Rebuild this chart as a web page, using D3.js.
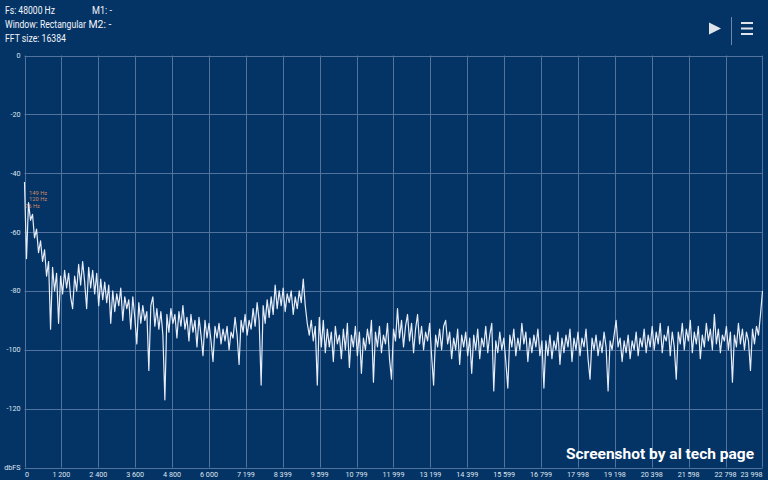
<!DOCTYPE html>
<html>
<head>
<meta charset="utf-8">
<script src="https://cdn.jsdelivr.net/npm/d3@7/dist/d3.min.js"></script>
<style>
html,body{margin:0;padding:0;background:#043366;}
svg{display:block;}
</style>
</head>
<body>
<svg id="chart" width="768" height="480"></svg>
<script>
// ---- data ----
const sampleRateHz = 48000;
const maxFreqHz = 24000;
const binCount = 369;
const levelsDb = [
-43,-69,-50,-56,-54,-62,-59,-67,-63,-70,-66,-75,-70,-93,-72,-80,-74,-91,-75,-81,
-73,-79,-74,-82,-86,-75,-80,-71,-78,-70,-77,-86,-72,-79,-73,-81,-74,-85,-76,-83,
-77,-84,-78,-91,
-80,-87,-81,-85,-79,-90,-82,-86,-83,-93,-82,-89,-98,-84,-91,-85,-90,-87,-107,-85,
-82,-92,-86,-93,-87,-95,-117,-88,-94,-86,-91,-88,-96,-87,-92,-85,-93,-89,-97,-88,
-94,-90,-99,-89,-95,-102,-90,-96,-91,-97,-104,-92,-96,-91,-98,-93,-97,-92,-100,-94,
-96,-89,-95,-105,-90,-94,-88,-95,-90,-93,
-86,-92,-84,-90,-112,-85,-91,-83,-89,-82,-88,-78,-86,-80,-85,-79,-87,-81,-84,-80,
-88,-82,-86,-80,-84,-76,-85,
-91,-95,-90,-97,-92,-112,-89,-99,
-90,-101,-93,-99,-94,-104,-92,-98,-95,-103,-93,-100,-91,-106,-95,-99,-92,-102,-94,-108,
-96,-100,-93,-98,-90,-111,-94,-99,-92,-101,-95,-98,-91,-103,-110,-93,-97,-86,-96,-90,
-99,-92,-88,-97,-91,-101,-93,-88,-98,-92,-100,-94,-97,-91,-102,-112,-95,-99,-93,-100,
-92,-90,-98,-94,-103,-96,-100,-93,-105,-95,-99,-94,-102,-96,-108,-95,-100,-93,-103,-96,
-99,-92,-101,-95,-91,-114,-97,-101,-94,-100,-96,-104,-113,-95,-99,-93,-102,-96,-100,-91,
-98,-94,-104,-96,-101,-95,-99,-93,-102,-97,
-113,-97,-102,-95,-103,-97,-100,-94,-105,-96,-101,-95,-99,-93,-104,-96,-100,-94,-102,-96,
-99,-93,-103,-110,-96,-100,-95,-102,-97,-101,-94,-99,-114,-97,-100,-95,-90,-99,-96,-104,
-97,-101,-95,-103,-97,-100,-94,-102,-96,-99,-93,-101,-95,
-99,-92,-100,-94,-98,-91,-101,-95,-97,-92,-102,-94,-99,-110,-94,-98,-91,-100,-93,-97,
-90,-101,-94,-98,-92,-103,-95,-99,-91,-97,-93,-100,-88,-98,-93,-101,-95,-97,-92,-100,
-94,-111,-95,-99,-91,-98,-93,-100,-94,-97,-107,-93,-98,-92,-95,-88,-80
];
const xTickHz = [0,1200,2400,3600,4800,6000,7199,8399,9599,10799,11999,13199,14399,15599,16799,17998,19198,20398,21598,22798,23998];
const xTickLabels = ["0","1 200","2 400","3 600","4 800","6 000","7 199","8 399","9 599","10 799","11 999","13 199","14 399","15 599","16 799","17 998","19 198","20 398","21 598","22 798","23 998"];
const yTicksDb = [0,-20,-40,-60,-80,-100,-120,-140];
const yTickLabels = ["0","-20","-40","-60","-80","-100","-120","dbFS"];
const peakLabels = ["149 Hz","120 Hz","76 Hz"];
const infoLeft = ["Fs: 48000 Hz","Window: Rectangular","FFT size: 16384"];
const infoRight = ["M1: -","M2: -"];
const watermark = "Screenshot by al tech page";

// ---- layout ----
const svg = d3.select("#chart");
const W = 768, H = 480;
const plot = {left:24.5, right:762.5, top:55.5, bottom:467.5};
const x = d3.scaleLinear().domain([0, maxFreqHz]).range([plot.left, plot.right]);
const y = d3.scaleLinear().domain([0, -140]).range([plot.top, plot.bottom]);
const freqStep = maxFreqHz / (binCount - 1);

svg.append("rect").attr("width",W).attr("height",H).attr("fill","#043366");

const gridColor = "#52739d";
// vertical grid
svg.append("g").selectAll("line").data(xTickHz).join("line")
  .attr("x1",d=>Math.round(x(d))+0.5).attr("x2",d=>Math.round(x(d))+0.5)
  .attr("y1",plot.top).attr("y2",plot.bottom)
  .attr("stroke",gridColor).attr("stroke-width",1);
// horizontal grid
svg.append("g").selectAll("line").data(yTicksDb).join("line")
  .attr("x1",plot.left).attr("x2",plot.right)
  .attr("y1",d=>Math.round(y(d))+0.5).attr("y2",d=>Math.round(y(d))+0.5)
  .attr("stroke",gridColor).attr("stroke-width",1);

// x labels
svg.append("g").selectAll("text").data(xTickHz).join("text")
  .attr("x",(d,i)=> i===0 ? x(d)+0.5 : (i===xTickHz.length-1 ? plot.right : x(d)))
  .attr("y",476.5)
  .attr("text-anchor",(d,i)=> i===0 ? "start" : (i===xTickHz.length-1 ? "end" : "middle"))
  .attr("font-family","Roboto, sans-serif").attr("font-size",7.2)
  .attr("fill","#dfe6f0")
  .text((d,i)=>xTickLabels[i]);

// y labels
svg.append("g").selectAll("text").data(yTicksDb).join("text")
  .attr("x",20.5).attr("y",d=>y(d)+2.5)
  .attr("text-anchor","end")
  .attr("font-family","Roboto, sans-serif").attr("font-size",7.2)
  .attr("fill","#dfe6f0")
  .text((d,i)=>yTickLabels[i]);

// peak labels
svg.append("g").selectAll("text").data(peakLabels).join("text")
  .attr("x",(d,i)=> i===2 ? 25 : 29)
  .attr("y",(d,i)=>[194.5,201.3,208.3][i])
  .attr("font-family","Roboto, sans-serif").attr("font-size",5.8)
  .attr("fill","#d08a5c")
  .text(d=>d);

// spectrum trace
const line = d3.line()
  .x((d,i)=>x(i*freqStep))
  .y(d=>y(d));
svg.append("path").datum(levelsDb)
  .attr("d",line)
  .attr("fill","none")
  .attr("stroke","#e6edf8")
  .attr("stroke-width",1.2)
  .attr("stroke-linejoin","round");

// horizontally condensed text helper (scales to a target width)
function condensed(str, x0, yb, targetW, opts){
  const g = svg.append("g");
  const t = g.append("text").attr("x",0).attr("y",0)
    .attr("font-family",opts.family).attr("font-size",opts.size)
    .attr("font-weight",opts.weight||"normal").attr("fill",opts.fill)
    .text(str);
  const w = t.node().getComputedTextLength();
  const s = Math.min(1, targetW / w);
  g.attr("transform",`translate(${x0},${yb}) scale(${s},1)`);
  return g;
}

// info text
const leftW = [50,81,61];
infoLeft.forEach((s,i)=>condensed(s,5,14+i*14,leftW[i],{family:"Roboto, sans-serif",size:10.5,fill:"#f2f5fa"}));
const rightX = [92,88.5];
infoRight.forEach((s,i)=>condensed(s,rightX[i],14+i*14,i===0?20:23,{family:"Roboto, sans-serif",size:10.5,fill:"#f2f5fa"}));

// icons
const iconColor = "#dfe3ea";
svg.append("path").attr("d","M709,22.5 L721,28.5 L709,34.5 Z").attr("fill",iconColor);
svg.append("line").attr("x1",731.5).attr("x2",731.5).attr("y1",17).attr("y2",45)
  .attr("stroke","#6f89ad").attr("stroke-width",1);
svg.append("g").selectAll("rect").data([22,27.5,33]).join("rect")
  .attr("x",741).attr("y",d=>d).attr("width",12).attr("height",2)
  .attr("fill",iconColor);

// watermark
condensed(watermark,566,459,190,{family:"Roboto, sans-serif",size:15.5,weight:"bold",fill:"#ffffff"});
</script>
</body>
</html>
